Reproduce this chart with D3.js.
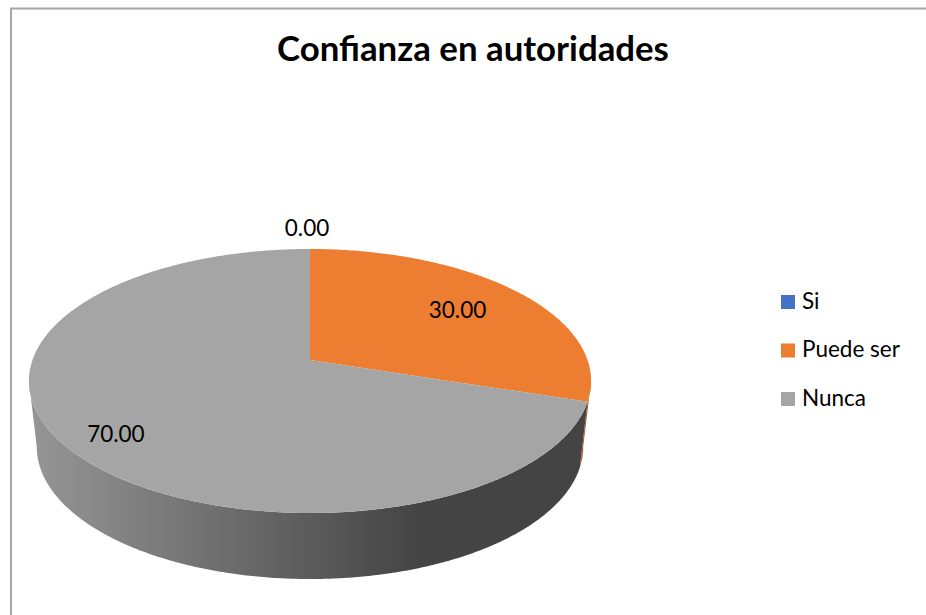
<!DOCTYPE html>
<html>
<head>
<meta charset="utf-8">
<script src="https://cdn.jsdelivr.net/npm/d3@7"></script>
<style>
  html, body { margin: 0; padding: 0; background: #ffffff; }
  svg { display: block; }
</style>
</head>
<body>
<svg id="chart" width="926" height="615"></svg>
<script>
// ---- data ----
const title = "Confianza en autoridades";
const categories = ["Si", "Puede ser", "Nunca"];
const values = [0.00, 30.00, 70.00];
const colors = ["#4472c4", "#ed7d31", "#a5a5a5"];

// ---- layout / style ----
const W = 926, H = 615;
const cx = 310, cy = 360;          // projected pie centre
const A = 277.5, B = 128.7, k = 0.159; // perspective ellipse parameters
const depth = 66, sBottom = 0.972;
const FONT = "Lato, 'Open Sans', 'DejaVu Sans', sans-serif";

const svg = d3.select("#chart");

// border (only top and left visible)
svg.append("path")
  .attr("d", `M11,${H} L11,8.5 L${W},8.5`)
  .attr("fill", "none")
  .attr("stroke", "#a6a6a6")
  .attr("stroke-width", 2);

// title
const t = svg.append("text")
  .attr("x", 473).attr("y", 61)
  .attr("text-anchor", "middle")
  .attr("font-family", FONT)
  .attr("font-weight", "bold")
  .attr("font-size", 30)
  .attr("fill", "#000")
  .text(title);
const tl = t.node().getComputedTextLength();
t.attr("font-size", 30 * 392 / tl);

// projection of a point on the (unit) pie disk
function proj(theta, f = 1, bottom = false) {
  const u = Math.sin(theta) * f, v = -Math.cos(theta) * f;
  const w = 1 - k * v;
  const s = bottom ? sBottom : 1;
  return [cx + A * s * u / w, cy + (bottom ? depth : 0) + B * v / w];
}
function arcPts(a0, a1, bottom) {
  const n = Math.max(2, Math.ceil(Math.abs(a1 - a0) / (Math.PI / 360)));
  return d3.range(n + 1).map(i => proj(a0 + (a1 - a0) * i / n, 1, bottom));
}

const pie = d3.pie().sort(null).value(d => d.value).startAngle(0).endAngle(2 * Math.PI);
const data = categories.map((c, i) => ({ cat: c, value: values[i], color: colors[i] }));
const arcs = pie(data);

// gradients for the side walls
const defs = svg.append("defs");
function sideGrad(id, c0, c1) {
  const g = defs.append("linearGradient").attr("id", id)
    .attr("gradientUnits", "userSpaceOnUse")
    .attr("x1", 30).attr("y1", 0).attr("x2", 420).attr("y2", 0);
  g.append("stop").attr("offset", 0).attr("stop-color", c0);
  g.append("stop").attr("offset", 1).attr("stop-color", c1);
}
sideGrad("side0", "#3a5fa6", "#253d6b");
sideGrad("side1", "#d06a28", "#b85a20");
sideGrad("side2", "#969696", "#444444");

// side walls: visible between the two silhouette angles (cos(theta) = -k)
const thA = Math.acos(-k), thB = 2 * Math.PI - Math.acos(-k);
const line = d3.line();
const gSide = svg.append("g");
arcs.forEach((a, i) => {
  if (a.endAngle - a.startAngle <= 0) return;
  const s = Math.max(a.startAngle, thA), e = Math.min(a.endAngle, thB);
  if (e <= s) return;
  const top = arcPts(s, e, false);
  const bot = arcPts(e, s, true);
  gSide.append("path")
    .attr("d", line(top.concat(bot)) + "Z")
    .attr("fill", `url(#side${i})`);
});

// top faces
const gTop = svg.append("g");
arcs.forEach(a => {
  if (a.endAngle - a.startAngle <= 0) return;
  const pts = [proj(0, 0)].concat(arcPts(a.startAngle, a.endAngle, false));
  gTop.append("path")
    .attr("d", line(pts) + "Z")
    .attr("fill", a.data.color);
});

// data labels
const fmt = d3.format(".2f");
arcs.forEach(a => {
  const mid = (a.startAngle + a.endAngle) / 2;
  let f, dy = 0, dx = 0;
  if (a.value === 0) { f = 1.23; dx = -3; }
  else if (a.value < 50) { f = 0.7; }
  else { f = 0.8; dy = 8; }
  const p = proj(mid, f);
  svg.append("text")
    .attr("x", p[0] + dx).attr("y", p[1] + dy)
    .attr("dy", "0.36em")
    .attr("text-anchor", "middle")
    .attr("font-family", FONT)
    .attr("font-size", 22.5)
    .attr("fill", "#000")
    .text(fmt(a.value));
});

// legend
const lg = svg.append("g").attr("transform", "translate(781,295)");
categories.forEach((c, i) => {
  const row = lg.append("g").attr("transform", `translate(0,${i * 48.5})`);
  row.append("rect").attr("width", 14).attr("height", 14).attr("fill", colors[i]);
  row.append("text")
    .attr("x", 21).attr("y", 13.5)
    .attr("font-family", FONT)
    .attr("font-size", 22.5)
    .attr("fill", "#000")
    .text(c);
});
</script>
</body>
</html>
